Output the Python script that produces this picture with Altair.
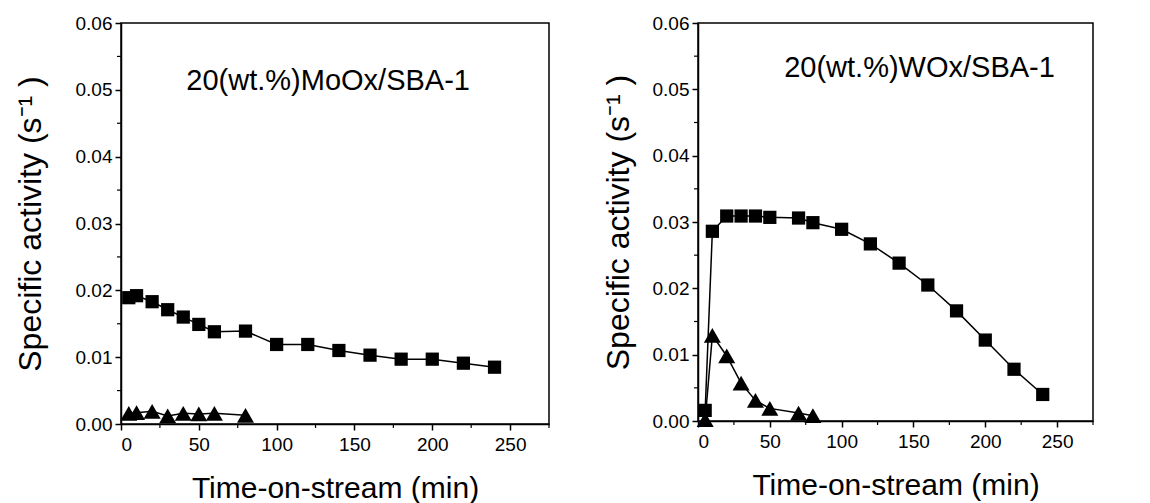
import altair as alt
import pandas as pd

FONT = "Liberation Sans"

# ---- data ----
x_major = [0, 50, 100, 150, 200, 250]
x_minor = [25, 75, 125, 175, 225, 275]
y_major = [0.00, 0.01, 0.02, 0.03, 0.04, 0.05, 0.06]
y_minor = [0.005, 0.015, 0.025, 0.035, 0.045, 0.055]

mo_sq_t = [5, 10, 20, 30, 40, 50, 60, 80, 100, 120, 140, 160, 180, 200, 220, 240]
mo_sq_a = [0.0189, 0.0192, 0.0183, 0.0171, 0.0160, 0.0149, 0.0138, 0.0139,
           0.0119, 0.0119, 0.0110, 0.0103, 0.0097, 0.0097, 0.0091, 0.0085]
mo_tr_t = [5, 10, 20, 30, 40, 50, 60, 80]
mo_tr_a = [0.0016, 0.0017, 0.0019, 0.0012, 0.0016, 0.0015, 0.0016, 0.0013]

w_sq_t = [5, 10, 20, 30, 40, 50, 70, 80, 100, 120, 140, 160, 180, 200, 220, 240]
w_sq_a = [0.0016, 0.0286, 0.0309, 0.0309, 0.0309, 0.0307, 0.0306, 0.0299,
          0.0289, 0.0267, 0.0238, 0.0205, 0.0166, 0.0122, 0.0078, 0.0040]
w_tr_t = [5, 10, 20, 30, 40, 50, 70, 80]
w_tr_a = [0.0002, 0.0129, 0.0098, 0.0057, 0.0031, 0.0019, 0.0012, 0.0008]

labels = ["20(wt.%)MoOx/SBA-1", "20(wt.%)WOx/SBA-1"]
label_t = [42, 60]
label_a = [0.0513, 0.0532]

X_TITLE = "Time-on-stream (min)"
Y_TITLE = "Specific activity (s\u207b\u00b9 )"


def panel(sq_t, sq_a, tr_t, tr_a, label, lt, la, w, h, y_title_pad):
    xs = alt.Scale(domain=[0, 275], nice=False, zero=False)
    ys = alt.Scale(domain=[0, 0.06], nice=False)
    xax = alt.Axis(values=x_major, format="d", title=X_TITLE, titlePadding=19,
                   labelPadding=5)
    yax = alt.Axis(values=y_major, format=".2f", title=Y_TITLE,
                   titlePadding=y_title_pad)
    X = alt.X("t:Q", scale=xs, axis=xax)
    Y = alt.Y("a:Q", scale=ys, axis=yax)

    sq = pd.DataFrame({"t": sq_t, "a": sq_a})
    tr = pd.DataFrame({"t": tr_t, "a": tr_a})

    sq_line = alt.Chart(sq).mark_line(color="black", strokeWidth=1.5).encode(x=X, y=Y)
    sq_pts = alt.Chart(sq).mark_point(shape="square", filled=True, size=175,
                                      color="black", opacity=1).encode(x=X, y=Y)
    tr_line = alt.Chart(tr).mark_line(color="black", strokeWidth=1.5).encode(x=X, y=Y)
    tr_pts = alt.Chart(tr).mark_point(shape="triangle-up", filled=True, size=290,
                                      color="black", opacity=1).encode(x=X, y=Y)

    xm = pd.DataFrame({"t": x_minor})
    ym = pd.DataFrame({"a": y_minor})
    x_minor_ticks = alt.Chart(xm).mark_rule(color="black", strokeWidth=1.2).encode(
        x=X, y=alt.value(h), y2=alt.value(h + 4))
    y_minor_ticks = alt.Chart(ym).mark_rule(color="black", strokeWidth=1.2).encode(
        y=Y, x=alt.value(0), x2=alt.value(-4))

    lab = pd.DataFrame({"t": [lt], "a": [la], "txt": [label]})
    text = alt.Chart(lab).mark_text(align="left", baseline="middle", font=FONT,
                                    fontSize=29, color="black").encode(
        x=X, y=Y, text="txt:N")

    return alt.layer(sq_line, tr_line, sq_pts, tr_pts, x_minor_ticks,
                     y_minor_ticks, text).properties(width=w, height=h)


left = panel(mo_sq_t, mo_sq_a, mo_tr_t, mo_tr_a, labels[0], label_t[0], label_a[0],
             428, 401, 28)
right = panel(w_sq_t, w_sq_a, w_tr_t, w_tr_a, labels[1], label_t[1], label_a[1],
              395, 398, 17)

chart = alt.hconcat(left, right, spacing=50).configure_view(
    stroke="black", strokeWidth=1.5
).configure_axis(
    grid=False,
    domainColor="black", domainWidth=1.5,
    tickColor="black", tickWidth=1.5, tickSize=6,
    labelFont=FONT, labelFontSize=19, labelColor="black", labelPadding=3,
    titleFont=FONT, titleFontSize=30, titleFontWeight="normal", titleColor="black",
).configure_axisY(titleFontSize=32)

chart.save("out.html", embed_options={"renderer": "svg", "actions": False})
